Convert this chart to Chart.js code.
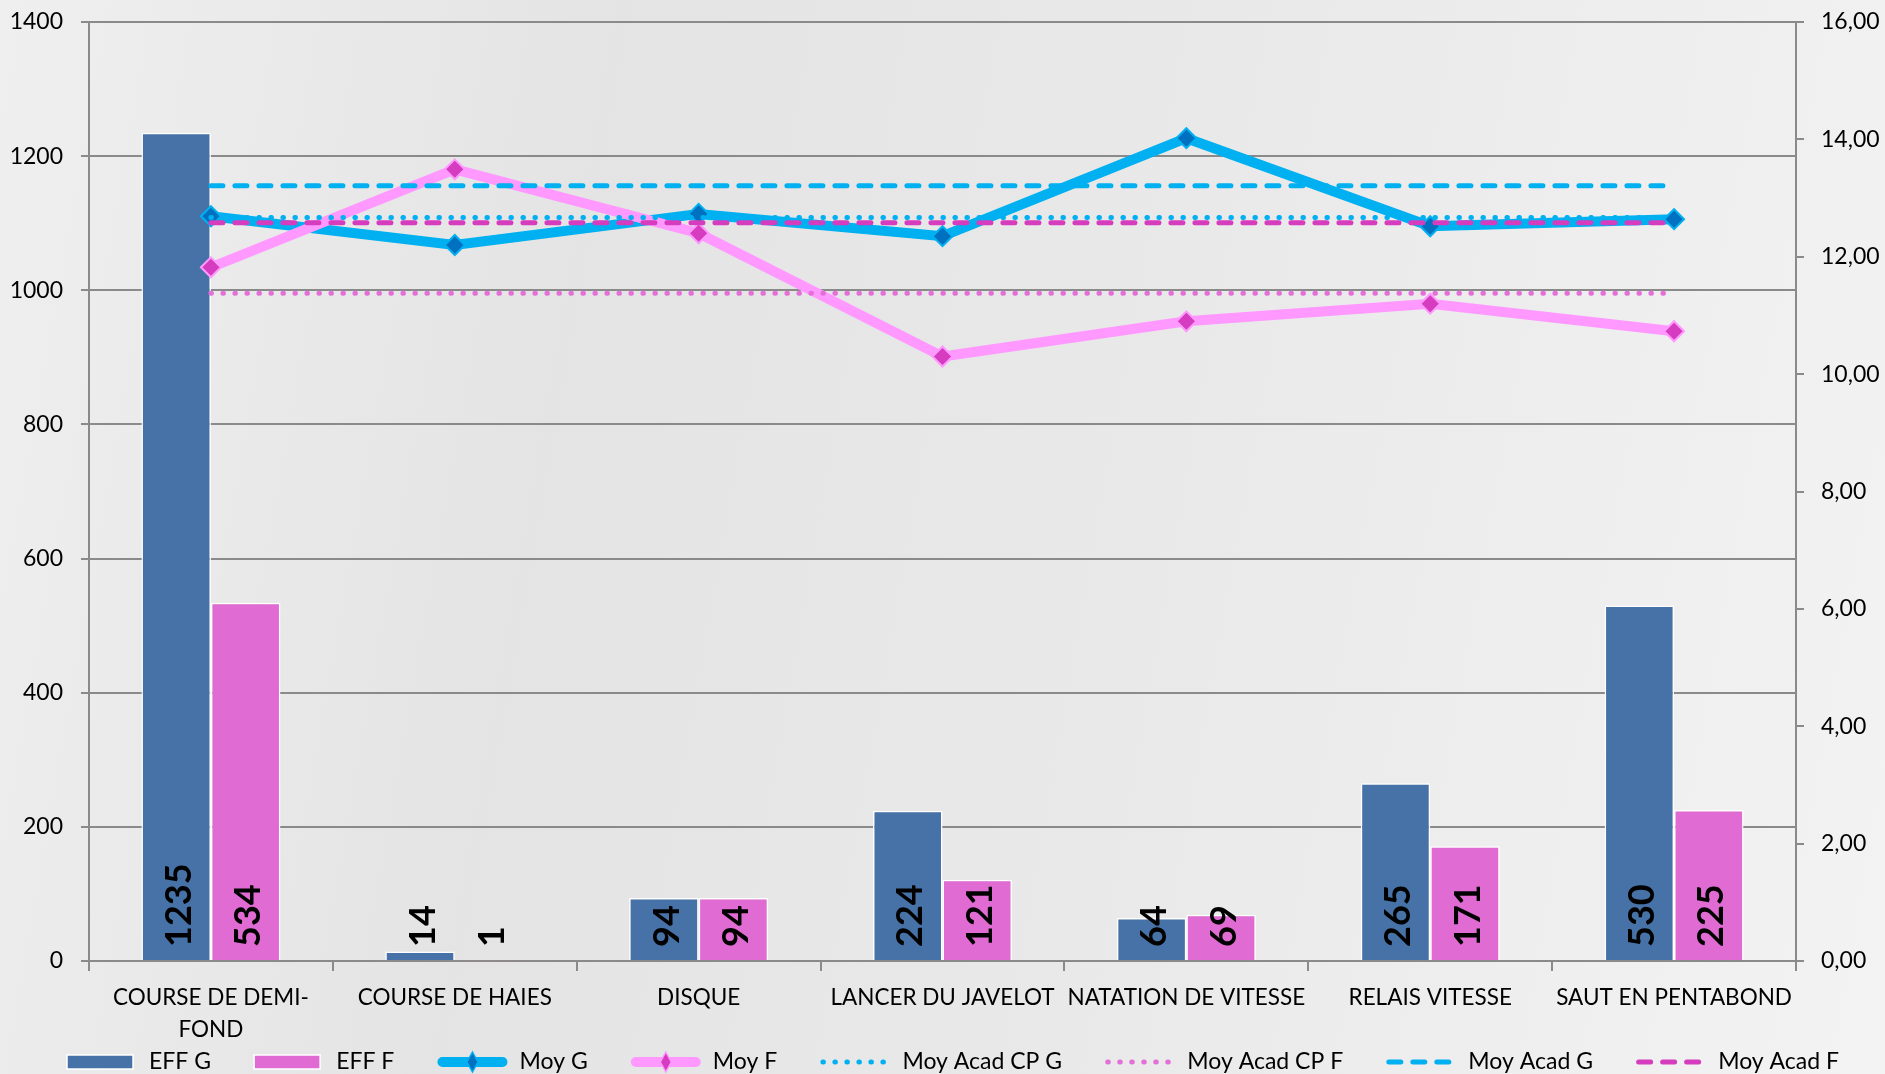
<!DOCTYPE html>
<html>
<head>
<meta charset="utf-8">
<script src="https://cdn.jsdelivr.net/npm/chart.js@4.4.1/dist/chart.umd.min.js"></script>
<style>
  html, body { margin: 0; padding: 0; }
  body {
    width: 1885px; height: 1074px; overflow: hidden;
    background: linear-gradient(100deg, #efefef 0%, #e4e4e4 30%, #e9e9e9 60%, #f3f3f3 100%);
  }
  canvas { display: block; }
</style>
</head>
<body>
<canvas id="chartSports" width="1885" height="1074"></canvas>
<script>
// categories and values
var categories = [['COURSE DE DEMI-', 'FOND'], 'COURSE DE HAIES', 'DISQUE', 'LANCER DU JAVELOT', 'NATATION DE VITESSE', 'RELAIS VITESSE', 'SAUT EN PENTABOND'];
var effG = [1235, 14, 94, 224, 64, 265, 530];
var effF = [534, 1, 94, 121, 69, 171, 225];
var moyG = [12.69, 12.20, 12.73, 12.35, 14.02, 12.52, 12.64];
var moyF = [11.82, 13.49, 12.40, 10.30, 10.90, 11.20, 10.73];
var moyAcadCPG = [12.67, 12.67, 12.67, 12.67, 12.67, 12.67, 12.67];
var moyAcadCPF = [11.38, 11.38, 11.38, 11.38, 11.38, 11.38, 11.38];
var moyAcadG = [13.21, 13.21, 13.21, 13.21, 13.21, 13.21, 13.21];
var moyAcadF = [12.58, 12.58, 12.58, 12.58, 12.58, 12.58, 12.58];
var leftAxis = { min: 0, max: 1400, step: 200 };
var rightAxis = { min: 0, max: 16, step: 2 };

var FONT = 'Lato';
var gridGray = '#8a8a8a';

// rotated value labels at the base of each bar
var barLabels = {
    id: 'barLabels',
    afterDatasetsDraw: function(chart) {
        var ctx = chart.ctx;
        [0, 1].forEach(function(di) {
            var meta = chart.getDatasetMeta(di);
            meta.data.forEach(function(bar, i) {
                ctx.save();
                ctx.translate(bar.x + 3, bar.base - 13);
                ctx.rotate(-Math.PI / 2);
                ctx.font = 'bold 36px ' + FONT;
                ctx.fillStyle = '#000';
                ctx.textAlign = 'left';
                ctx.textBaseline = 'middle';
                ctx.fillText(String(chart.data.datasets[di].data[i]), 0, 0);
                ctx.restore();
            });
        });
    }
};

// legend drawn by hand so the symbols look like the original
var bottomLegend = {
    id: 'bottomLegend',
    afterDraw: function(chart) {
        var ctx = chart.ctx;
        var sets = chart.data.datasets;
        var symW = 70, gap = 12, left = 67, right = 1839, cy = 1062;
        ctx.save();
        ctx.font = '23px ' + FONT;
        var textW = sets.map(function(d) { return ctx.measureText(d.label).width; });
        var sum = textW.reduce(function(a, b) { return a + b; }, 0);
        var spacing = (right - left - sets.length * (symW + gap) - sum) / (sets.length - 1);
        var x = left;
        sets.forEach(function(d, i) {
            if (d.type === 'bar') {
                ctx.fillStyle = d.backgroundColor;
                ctx.fillRect(x, cy - 7, symW - 4, 14);
                ctx.strokeStyle = '#fff';
                ctx.lineWidth = 1.5;
                ctx.strokeRect(x, cy - 7, symW - 4, 14);
            } else {
                ctx.beginPath();
                ctx.strokeStyle = d.borderColor;
                ctx.lineWidth = d.borderWidth;
                ctx.lineCap = 'round';
                ctx.setLineDash(d.borderDash || []);
                ctx.moveTo(x + d.borderWidth / 2, cy);
                ctx.lineTo(x + symW - d.borderWidth / 2, cy);
                ctx.stroke();
                ctx.setLineDash([]);
                if (d.pointRadius > 0) {
                    var r = d.pointRadius, mx = x + symW / 2;
                    ctx.beginPath();
                    ctx.moveTo(mx, cy - r);
                    ctx.lineTo(mx + r * 0.55, cy);
                    ctx.lineTo(mx, cy + r);
                    ctx.lineTo(mx - r * 0.55, cy);
                    ctx.closePath();
                    ctx.fillStyle = d.pointBackgroundColor;
                    ctx.fill();
                    ctx.lineWidth = 1.5;
                    ctx.strokeStyle = d.pointBorderColor;
                    ctx.stroke();
                }
            }
            ctx.fillStyle = '#000';
            ctx.textAlign = 'left';
            ctx.textBaseline = 'alphabetic';
            ctx.fillText(d.label, x + symW + gap, 1069);
            x += symW + gap + textW[i] + spacing;
        });
        ctx.restore();
    }
};

function fixVertical(width) {
    return function(scale) {
        scale.width = width;
        scale.paddingTop = 0;
        scale.paddingBottom = 0;
    };
}

var chart = new Chart(document.getElementById('chartSports'), {
    data: {
        labels: categories,
        datasets: [
            { type: 'bar', label: 'EFF G', data: effG, yAxisID: 'y', order: 9,
              backgroundColor: '#4672a7', borderColor: '#ffffff', borderWidth: 1.5,
              categoryPercentage: 0.57, barPercentage: 1.0 },
            { type: 'bar', label: 'EFF F', data: effF, yAxisID: 'y', order: 10,
              backgroundColor: '#e06bd3', borderColor: '#ffffff', borderWidth: 1.5,
              categoryPercentage: 0.57, barPercentage: 1.0 },
            { type: 'line', label: 'Moy G', data: moyG, yAxisID: 'y1', order: 8,
              borderColor: '#00b0f0', borderWidth: 10, tension: 0,
              pointStyle: 'rectRot', pointRadius: 10, pointBackgroundColor: '#0070c0',
              pointBorderColor: '#00b0f0', pointBorderWidth: 2 },
            { type: 'line', label: 'Moy F', data: moyF, yAxisID: 'y1', order: 7,
              borderColor: '#ff99ff', borderWidth: 10, tension: 0,
              pointStyle: 'rectRot', pointRadius: 10, pointBackgroundColor: '#d63cbf',
              pointBorderColor: '#ff99ff', pointBorderWidth: 2 },
            { type: 'line', label: 'Moy Acad CP G', data: moyAcadCPG, yAxisID: 'y1', order: 6,
              borderColor: '#00b0f0', borderWidth: 5, borderDash: [0.5, 11.5], borderCapStyle: 'round',
              pointRadius: 0 },
            { type: 'line', label: 'Moy Acad CP F', data: moyAcadCPF, yAxisID: 'y1', order: 5,
              borderColor: '#e46fd8', borderWidth: 5, borderDash: [0.5, 11.5], borderCapStyle: 'round',
              pointRadius: 0 },
            { type: 'line', label: 'Moy Acad G', data: moyAcadG, yAxisID: 'y1', order: 4,
              borderColor: '#00b0f0', borderWidth: 5, borderDash: [12, 12], borderCapStyle: 'round',
              pointRadius: 0 },
            { type: 'line', label: 'Moy Acad F', data: moyAcadF, yAxisID: 'y1', order: 3,
              borderColor: '#d63cbe', borderWidth: 5, borderDash: [12, 12], borderCapStyle: 'round',
              pointRadius: 0 }
        ]
    },
    options: {
        responsive: false,
        animation: false,
        devicePixelRatio: 1,
        layout: { padding: { top: 22, left: 0, right: 0, bottom: 0 } },
        plugins: {
            legend: { display: false },
            tooltip: { enabled: false }
        },
        scales: {
            x: {
                offset: true,
                grid: { display: true, drawOnChartArea: false, offset: true, tickLength: 10, color: gridGray, lineWidth: 2 },
                border: { color: gridGray, width: 2 },
                ticks: { color: '#000', font: { family: FONT, size: 22.5, lineHeight: 1.45 }, padding: 10,
                         maxRotation: 0, minRotation: 0, autoSkip: false },
                afterFit: function(scale) { scale.height = 113; scale.paddingLeft = 0; scale.paddingRight = 0; }
            },
            y: {
                position: 'left',
                min: leftAxis.min, max: leftAxis.max,
                grid: { color: gridGray, lineWidth: 2, tickLength: 8 },
                border: { color: gridGray, width: 2 },
                ticks: { stepSize: leftAxis.step, color: '#000', font: { family: FONT, size: 23 }, padding: 18,
                         callback: function(v) { return String(v); } },
                afterFit: fixVertical(89)
            },
            y1: {
                position: 'right',
                min: rightAxis.min, max: rightAxis.max,
                grid: { drawOnChartArea: false, color: gridGray, lineWidth: 2, tickLength: 8 },
                border: { color: gridGray, width: 2 },
                ticks: { stepSize: rightAxis.step, color: '#000', font: { family: FONT, size: 23 }, padding: 17,
                         callback: function(v) { return v.toFixed(2).replace('.', ','); } },
                afterFit: fixVertical(89)
            }
        }
    },
    plugins: [barLabels, bottomLegend]
});
</script>
</body>
</html>
